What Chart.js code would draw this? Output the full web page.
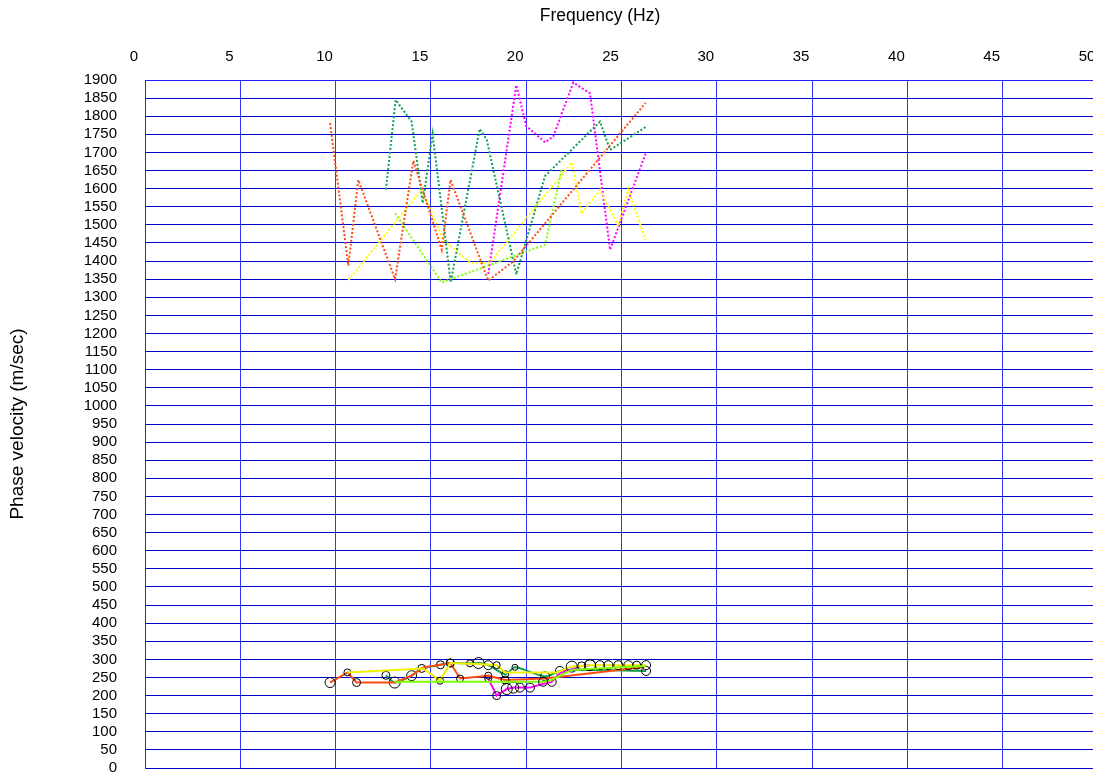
<!DOCTYPE html>
<html>
<head>
<meta charset="utf-8">
<script src="https://cdn.jsdelivr.net/npm/chart.js@4/dist/chart.umd.min.js"></script>
<style>
  html, body { margin: 0; padding: 0; overflow: hidden; background: #fff; width: 1093px; height: 777px; }
  #wrap { position: absolute; left: 0; top: 0; width: 1200px; height: 777px; }
</style>
</head>
<body>
<div id="wrap"><canvas id="c"></canvas></div>
<script>
// Axis ranges
const FREQ_MIN = 0, FREQ_MAX = 50, FREQ_STEP = 5;
const VEL_MIN = 0, VEL_MAX = 1900, VEL_STEP = 50;

// Dotted curves (upper modes): frequency (Hz) and phase velocity (m/sec)
const orangeDotF = [9.71, 10.67, 11.19, 13.12, 14.08, 15.57, 16.03, 18.01, 19.32, 26.27];
const orangeDotV = [1781, 1387, 1624, 1350, 1677, 1431, 1624, 1346, 1399, 1837];

const greenDotF = [12.64, 13.15, 13.99, 14.57, 15.09, 16.04, 17.56, 17.93, 19.48, 20.99, 23.87, 24.40, 26.27];
const greenDotV = [1597, 1845, 1785, 1560, 1751, 1341, 1765, 1735, 1363, 1635, 1785, 1707, 1770];

const yellowDotF = [10.67, 14.52, 15.65, 17.05, 18.10, 22.39, 22.91, 23.87, 24.83, 25.36, 26.27];
const yellowDotV = [1347, 1597, 1459, 1395, 1396, 1672, 1531, 1597, 1496, 1597, 1457];

const limeDotF = [13.12, 15.57, 20.99, 21.86];
const limeDotV = [1532, 1341, 1445, 1652];

const magentaDotF = [18.01, 19.48, 20.00, 20.99, 21.42, 22.47, 23.35, 24.40, 26.30];
const magentaDotV = [1364, 1886, 1773, 1728, 1744, 1893, 1863, 1431, 1702];

// Solid curves (fundamental mode) with picked points and marker radii
const orangeF = [9.71, 10.62, 11.10, 12.85, 13.10, 13.99, 14.60, 15.50, 16.02, 16.53, 18.01, 18.89, 21.00, 26.10];
const orangeV = [236, 264, 236, 236, 236, 255, 278, 285, 290, 247, 255, 243, 247, 278];
const orangeR = [5, 3.5, 4, 0, 0, 0, 0, 0, 4, 3.5, 3.5, 4, 0, 0];

const greenF = [12.64, 13.10, 13.99, 14.52, 15.50, 16.02, 17.05, 17.50, 18.01, 18.90, 19.41, 20.99, 21.77, 22.47, 26.29];
const greenV = [256, 236, 255, 275, 285, 290, 289, 290, 284, 259, 278, 253, 268, 271, 268];
const greenR = [4, 5.5, 5, 4, 4, 4, 3.5, 5.5, 4.5, 3.5, 3, 4.5, 4.5, 0, 4.5];

const yellowF = [10.62, 14.60, 15.48, 16.02, 17.50, 18.45, 18.90, 21.60, 22.39, 22.91, 23.35, 23.87, 24.31, 24.83, 25.36, 25.80, 26.29];
const yellowV = [264, 275, 241, 290, 287, 284, 264, 264, 280, 282, 284, 284, 284, 284, 284, 284, 284];
const yellowR = [0, 0, 3.5, 0, 0, 3.5, 0, 0, 5.5, 4, 5.5, 4.5, 4.5, 4.5, 4.5, 4, 4.5];

const limeF = [13.10, 20.89, 21.25, 22.39, 26.29];
const limeV = [238, 238, 241, 271, 282];
const limeR = [0, 4.5, 0, 0, 0];

const magentaF = [18.01, 18.45, 18.98, 19.32, 19.67, 20.20, 20.72, 21.34, 21.77, 22.90, 23.35];
const magentaV = [247, 200, 218, 222, 222, 222, 230, 238, 262, 282, 284];
const magentaR = [3.5, 4, 5.5, 5.5, 4.5, 4.5, 0, 4.5, 0, 0, 5.5];

const FONT = "'Liberation Sans', Arial, sans-serif";

// Page layout
const PLOT_LEFT = 145;       // velocity axis box width
const RIGHT_SPACER = 102;    // empty right-hand box, keeps the heading centred on the page
const Y_TITLE_SIZE = 19, Y_TITLE_CENTER = 18;

function pts(fs, vs) { return fs.map((f, i) => ({ x: f, y: vs[i] })); }

function dotted(fs, vs, color) {
  return {
    data: pts(fs, vs), borderColor: color, borderWidth: 2, borderDash: [2, 2],
    pointRadius: 0, tension: 0, fill: false
  };
}
function solid(fs, vs, rs, color, tension) {
  return {
    data: pts(fs, vs), borderColor: color, borderWidth: 2,
    pointRadius: rs, pointBorderColor: '#000', pointBorderWidth: 1,
    pointBackgroundColor: 'rgba(0,0,0,0)', tension: tension || 0, fill: false
  };
}

new Chart(document.getElementById('c'), {
  type: 'line',
  data: {
    datasets: [
      dotted(orangeDotF, orangeDotV, '#ff4a12'),
      dotted(greenDotF, greenDotV, '#10a050'),
      dotted(limeDotF, limeDotV, '#80ff00'),
      dotted(yellowDotF, yellowDotV, '#ffff00'),
      dotted(magentaDotF, magentaDotV, '#ff00ff'),
      solid(limeF, limeV, limeR, '#80ff00'),
      solid(yellowF, yellowV, yellowR, '#f0f000'),
      solid(orangeF, orangeV, orangeR, '#ff4a12'),
      solid(magentaF, magentaV, magentaR, '#ff00ff'),
      solid(greenF, greenV, greenR, '#10a050', 0.25)
    ]
  },
  options: {
    responsive: true,
    maintainAspectRatio: false,
    animation: false,
    devicePixelRatio: 1,
    layout: { padding: { left: 0, right: 0, top: 0, bottom: 8 } },
    plugins: {
      legend: { display: false },
      tooltip: { enabled: false },
      title: {
        display: true, text: 'Frequency (Hz)', position: 'top', align: 'center',
        color: '#000', font: { family: FONT, size: 17.5, weight: 'normal' },
        padding: { top: 6, bottom: 9 }
      }
    },
    scales: {
      x: {
        type: 'linear', position: 'top', min: FREQ_MIN, max: FREQ_MAX,
        ticks: { stepSize: FREQ_STEP, color: '#000', font: { family: FONT, size: 15 },
                 padding: 14, labelOffset: -11, maxRotation: 0, autoSkip: false,
                 callback: v => String(v) },
        grid: { color: '#3535ff', lineWidth: 1, drawTicks: false },
        border: { color: '#2020ff', width: 1 },
        afterFit(s) { s.height = 80 - (6 + 17.5 * 1.2 + 9); }
      },
      y: {
        min: VEL_MIN, max: VEL_MAX,
        ticks: { stepSize: VEL_STEP, autoSkip: false, color: '#000',
                 font: { family: FONT, size: 15 }, padding: 0,
                 callback: v => String(v) },
        // invisible tick marks keep the labels clear of the frame
        grid: { color: '#0000d0', lineWidth: 1, drawTicks: true, tickLength: 28,
                tickColor: 'rgba(0,0,0,0)' },
        border: { color: '#2020ff', width: 1 },
        title: { display: true, text: 'Phase velocity (m/sec)', color: '#000',
                 font: { family: FONT, size: Y_TITLE_SIZE },
                 padding: { top: Y_TITLE_CENTER - Y_TITLE_SIZE * 0.6, bottom: 0 } },
        afterFit(s) { s.width = PLOT_LEFT; }
      },
      spacer: {
        type: 'linear', position: 'right', min: VEL_MIN, max: VEL_MAX,
        grid: { display: false }, ticks: { display: false }, border: { display: false },
        afterFit(s) { s.width = RIGHT_SPACER; }
      }
    }
  }
});
</script>
</body>
</html>
